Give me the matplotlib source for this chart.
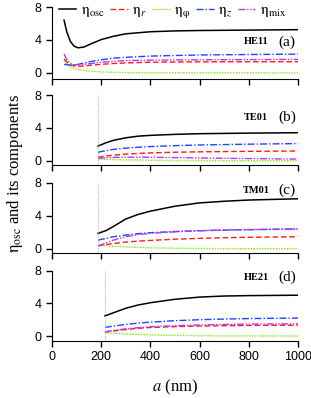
import matplotlib
matplotlib.use("Agg")
import matplotlib.pyplot as plt

plt.rcParams['font.family'] = ['Liberation Sans', 'DejaVu Sans']
plt.rcParams['mathtext.fontset'] = 'stix'

# ---- data ----
# (a) HE11
a_x = [49, 60, 75, 90, 106, 130, 160, 200, 250, 300, 400, 500, 600, 800, 1000]
a_osc = [6.4, 5.0, 3.8, 3.25, 3.05, 3.15, 3.55, 4.05, 4.45, 4.75, 5.0, 5.1, 5.15, 5.2, 5.25]
a_r = [1.7, 1.3, 1.0, 0.85, 0.8, 0.85, 0.95, 1.05, 1.15, 1.22, 1.3, 1.33, 1.35, 1.36, 1.37]
a_phi = [1.5, 1.1, 0.75, 0.55, 0.42, 0.3, 0.2, 0.12, 0.08, 0.05, 0.03, 0.02, 0.01, 0.01, 0.0]
a_z = [1.05, 1.0, 0.95, 0.98, 1.05, 1.2, 1.4, 1.6, 1.8, 1.9, 2.05, 2.12, 2.18, 2.24, 2.28]
a_mix = [2.3, 1.6, 1.15, 1.0, 1.0, 1.05, 1.15, 1.3, 1.42, 1.5, 1.55, 1.58, 1.6, 1.62, 1.65]

# (b) TE01
b_x = [187, 220, 250, 300, 350, 400, 500, 600, 800, 1000]
b_osc = [1.8, 2.2, 2.5, 2.8, 3.0, 3.1, 3.22, 3.3, 3.37, 3.42]
b_r = [0.45, 0.6, 0.7, 0.82, 0.9, 0.97, 1.05, 1.1, 1.16, 1.2]
b_phi = [0.2, 0.18, 0.15, 0.12, 0.1, 0.08, 0.05, 0.04, 0.02, 0.01]
b_z = [1.05, 1.25, 1.4, 1.55, 1.66, 1.74, 1.85, 1.93, 2.03, 2.1]
b_mix = [0.3, 0.38, 0.42, 0.45, 0.45, 0.44, 0.4, 0.35, 0.28, 0.22]

# (c) TM01
c_x = [187, 220, 250, 300, 350, 400, 500, 600, 700, 800, 1000]
c_osc = [1.86, 2.2, 2.7, 3.6, 4.15, 4.55, 5.15, 5.55, 5.75, 5.9, 6.05]
c_r = [0.33, 0.5, 0.62, 0.8, 0.92, 1.0, 1.15, 1.25, 1.33, 1.38, 1.45]
c_phi = [0.4, 0.35, 0.3, 0.22, 0.15, 0.1, 0.05, 0.02, 0.01, 0.0, 0.0]
c_z = [1.05, 1.25, 1.45, 1.65, 1.82, 1.94, 2.08, 2.18, 2.25, 2.3, 2.38]
c_mix = [0.33, 0.7, 1.05, 1.45, 1.7, 1.86, 2.05, 2.18, 2.26, 2.32, 2.4]

# (d) HE21
d_x = [215, 250, 300, 350, 400, 500, 600, 700, 800, 1000]
d_osc = [2.46, 2.85, 3.4, 3.8, 4.08, 4.5, 4.77, 4.9, 4.95, 5.0]
d_r = [0.45, 0.62, 0.8, 0.95, 1.05, 1.15, 1.22, 1.27, 1.3, 1.33]
d_phi = [0.4, 0.34, 0.26, 0.19, 0.14, 0.08, 0.04, 0.02, 0.01, 0.0]
d_z = [1.05, 1.22, 1.42, 1.58, 1.7, 1.88, 2.0, 2.08, 2.14, 2.2]
d_mix = [0.52, 0.7, 0.88, 1.02, 1.13, 1.27, 1.36, 1.42, 1.46, 1.5]

cutoffs = [None, 187, 187, 215]
modes = ['HE11', 'TE01', 'TM01', 'HE21']
tags = ['(a)', '(b)', '(c)', '(d)']
label_y = [3.76, 5.25, 7.1, 7.15]
ylims = [(-0.73, 8), (-0.5, 8), (-0.56, 8), (-0.57, 8)]

panels = [
    (a_x, a_osc, a_r, a_phi, a_z, a_mix),
    (b_x, b_osc, b_r, b_phi, b_z, b_mix),
    (c_x, c_osc, c_r, c_phi, c_z, c_mix),
    (d_x, d_osc, d_r, d_phi, d_z, d_mix),
]

styles = [
    dict(color='black', ls='-', lw=1.1, label=r'$\mathrm{\eta}_{\mathrm{osc}}$'),
    dict(color='#ff1a1a', ls=(0, (4, 2)), lw=1.0, label=r'$\mathrm{\eta}_{r}$'),
    dict(color='#80ee00', ls=(0, (1, 1)), lw=1.0, label=r'$\mathrm{\eta}_{\mathrm{\varphi}}$'),
    dict(color='#2244ff', ls=(0, (5, 1.5, 1, 1.5)), lw=1.0, label=r'$\mathrm{\eta}_{z}$'),
    dict(color='#bb33ff', ls=(0, (5, 1.2, 1, 1.2, 1, 1.2)), lw=1.0, label=r'$\mathrm{\eta}_{\mathrm{mix}}$'),
]

W, H = 311, 398
fig = plt.figure(figsize=(W / 100, H / 100), dpi=100)
boxes = [(7, 79), (95, 165), (182.7, 253.3), (270.7, 340.7)]

axes = []
for i, (top, bot) in enumerate(boxes):
    ax = fig.add_axes([52 / W, 1 - bot / H, 246 / W, (bot - top) / H])
    axes.append(ax)
    xs = panels[i][0]
    for ys, st in zip(panels[i][1:], styles):
        ax.plot(xs, ys, **st)
    if cutoffs[i] is not None:
        ax.axvline(cutoffs[i], color='#bbbbbb', ls=(0, (1, 1)), lw=0.8)
    ax.set_xlim(0, 1000)
    ax.set_ylim(*ylims[i])
    ax.set_yticks([0, 4, 8])
    ax.set_xticks([0, 200, 400, 600, 800, 1000])
    ax.spines['top'].set_visible(False)
    ax.spines['right'].set_visible(False)
    ax.spines['left'].set_bounds(ylims[i][0], 8)
    ax.tick_params(direction='out', length=4, width=1, labelsize=9)
    if i < 3:
        ax.tick_params(labelbottom=False)
    ax.text(830, label_y[i], modes[i], family='Liberation Serif', fontsize=7.5,
            fontweight='bold', ha='center', va='center')
    ax.text(955, label_y[i], tags[i], family='Liberation Serif', fontsize=11,
            ha='center', va='center')

axes[0].legend(loc='upper left', bbox_to_anchor=(0.028, 1.05), ncol=5, frameon=False,
               fontsize=11, handlelength=1.15, handletextpad=0.3, columnspacing=0.35,
               borderpad=0, borderaxespad=0)

fig.text(15 / W, 1 - 173 / H, r'$\mathrm{\eta}_{\mathrm{osc}}$ and its components',
         rotation=90, ha='center', va='center', family='Liberation Serif', fontsize=12)
fig.text(175 / W, 1 - 387 / H, r'$a$ (nm)', ha='center', va='center',
         family='Liberation Serif', fontsize=12)

fig.savefig('out.png', dpi=100)
